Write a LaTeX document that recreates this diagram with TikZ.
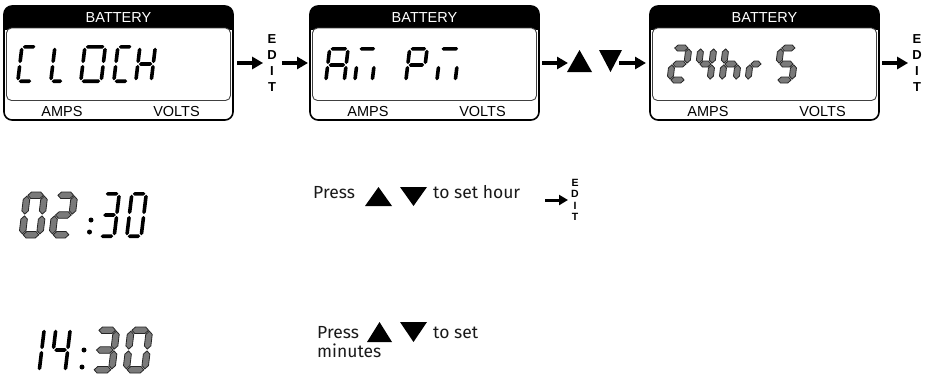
\documentclass[tikz,border=0pt]{standalone}
\usepackage{fontspec}
\setmainfont{Liberation Sans}
\newfontfamily\pressfont{Fira Sans}
\usetikzlibrary{arrows.meta}

\tikzset{
  panel/.style={draw=black, line width=1.6pt, rounded corners=8pt, minimum width=229pt,
    minimum height=114pt, inner sep=0pt, outer sep=0pt},
  hdr/.style={text=white, font=\fontsize{14.5}{16}\selectfont, inner sep=0pt},
  lbl/.style={text=black, font=\fontsize{14.5}{16}\selectfont, inner sep=0pt},
  arr/.style={line width=4pt, -{Triangle[length=11pt,width=12pt]}},
  arrsm/.style={line width=3pt, -{Triangle[length=9pt,width=10pt]}},
  edit/.style={font=\fontsize{13}{16}\selectfont\bfseries, align=center, inner sep=0pt},
  editsm/.style={font=\fontsize{10.5}{11.5}\selectfont\bfseries, align=center, inner sep=0pt},
  press/.style={font=\pressfont\fontsize{17.5}{20}\selectfont, text=black!90, inner sep=0pt, anchor=base west},
  thinseg/.style={fill=black},
  grayseg/.style={fill=black!52, draw=black!85, line width=0.8pt},
  tri/.style={fill=black},
}

% seven-segment helpers (local coordinates, y up)
\newcommand\hsegm[3]{%
  \path[segsty] ({#1+\sgap},{#3}) -- ({#1+\sgap+\sth},{#3+\sth}) -- ({#2-\sgap-\sth},{#3+\sth})
    -- ({#2-\sgap},{#3}) -- ({#2-\sgap-\sth},{#3-\sth}) -- ({#1+\sgap+\sth},{#3-\sth}) -- cycle;}
\newcommand\vsegm[3]{%
  \path[segsty] ({#1},{#2+\sgap}) -- ({#1+\sth},{#2+\sgap+\sth}) -- ({#1+\sth},{#3-\sgap-\sth})
    -- ({#1},{#3-\sgap}) -- ({#1-\sth},{#3-\sgap-\sth}) -- ({#1-\sth},{#2+\sgap+\sth}) -- cycle;}
\newcommand\sgcmda{\hsegm{0}{\dw}{\dh}}
\newcommand\sgcmdb{\vsegm{\dw}{\dm}{\dh}}
\newcommand\sgcmdc{\vsegm{\dw}{0}{\dm}}
\newcommand\sgcmdd{\hsegm{0}{\dw}{0}}
\newcommand\sgcmde{\vsegm{0}{0}{\dm}}
\newcommand\sgcmdf{\vsegm{0}{\dm}{\dh}}
\newcommand\sgcmdg{\hsegm{0}{\dw}{\dm}}

% #1 style, #2 thickness, #3 left x, #4 bottom y, #5 width, #6 height, #7 segments
\newcommand\lcdchar[7]{%
  \begin{scope}[shift={({#3+#2/2},{#4-#2/2})}, y=1pt, xslant=0.12]
    \pgfmathsetmacro\sth{#2/2}
    \def\sgap{0.9}
    \pgfmathsetmacro\dw{#5-#2}
    \pgfmathsetmacro\dh{#6-#2}
    \pgfmathsetmacro\dm{\dh/2}
    \tikzset{segsty/.style={#1}}
    \foreach \s in {#7}{\csname sgcmd\s\endcsname}
  \end{scope}}

\newcommand\lcdpanel[2]{%
  \begin{scope}
    \clip[rounded corners=8pt] (#2,6) rectangle ({#2+229},120);
    \fill[black] (#2,6) rectangle ({#2+229},30);
  \end{scope}
  \draw[black!75, line width=0.9pt, fill=white, rounded corners=5pt] ({#2+2.5},28) rectangle ({#2+226.5},100.5);
  \node[panel] (#1) at ({#2+114.5},63) {};
  \node[hdr] (#1t) at ({#2+114.5},17.5) {BATTERY};
  \node[lbl] (#1a) at ({#2+58},111.5) {AMPS};
  \node[lbl] (#1v) at ({#2+172.5},111.5) {VOLTS};
}

\begin{document}
\begin{tikzpicture}[x=1pt,y=-1pt]
\useasboundingbox (0,0) rectangle (929,375);

% ---------- top row panels ----------
\lcdpanel{p1}{4}
\lcdpanel{p2}{310}
\lcdpanel{p3}{650}

% CLOCH
\lcdchar{thinseg}{3.6}{16}{83}{18}{38}{a,f,e,d}
\lcdchar{thinseg}{3.6}{49}{83}{16}{38}{f,e,d}
\lcdchar{thinseg}{3.6}{79}{83}{24}{38}{a,b,c,d,e,f}
\lcdchar{thinseg}{3.6}{112}{83}{18}{38}{a,f,e,d}
\lcdchar{thinseg}{3.6}{134}{83}{19}{38}{f,e,g,b,c}

% AM PM
\lcdchar{thinseg}{3.6}{324}{83}{22}{36}{a,b,c,e,f,g}
\lcdchar{thinseg}{3.6}{353}{83}{21}{36}{a,c,e}
\lcdchar{thinseg}{3.6}{404}{83}{21}{36}{a,b,e,f,g}
\lcdchar{thinseg}{3.6}{435}{83}{22}{36}{a,c,e}

% 24hrS
\lcdchar{grayseg}{6}{667}{83}{21}{38}{a,b,g,e,d}
\lcdchar{grayseg}{6}{694}{83}{19}{38}{f,g,b,c}
\lcdchar{grayseg}{6}{719}{83}{20}{38}{f,e,g,c}
\lcdchar{grayseg}{6}{745}{83}{18}{38}{e,g}
\lcdchar{grayseg}{6}{774}{83}{21}{38}{a,f,g,c,d}

% EDIT labels and arrows
\node[edit] (e1) at (272,63) {E\\D\\I\\T};
\node[edit] (e2) at (917,63) {E\\D\\I\\T};
\draw[arr] ([xshift=4pt]p1.east) -- ([xshift=-4pt]e1.west);
\draw[arr] ([xshift=5pt]e1.east) -- ([xshift=-2pt]p2.west);

\fill[tri] (567,72) -- (592,72) -- (579.5,50) -- cycle;
\fill[tri] (599,50) -- (622,50) -- (610.5,72) -- cycle;
\coordinate (tu1) at (568,63);
\coordinate (td1) at (619,63);
\draw[arr] ([xshift=3pt]p2.east) -- (tu1);
\draw[arr] (td1) -- ([xshift=-4pt]p3.west);
\draw[arr] ([xshift=3pt]p3.east) -- ([xshift=-4pt]e2.west);

% ---------- row 2 : 02:30 ----------
\lcdchar{grayseg}{6.5}{19}{238}{24}{46}{a,b,c,d,e,f}
\lcdchar{grayseg}{6.5}{49}{238}{24}{46}{a,b,g,e,d}
\fill (91,220) circle (2.5);
\fill (89.5,232) circle (2.5);
\lcdchar{thinseg}{3.6}{98}{238}{18}{46}{a,b,g,c,d}
\lcdchar{thinseg}{3.6}{125}{238}{18}{46}{a,b,c,d,e,f}

\node[press] (t1) at (313,198) {Press};
\fill[tri] (365,206) -- (392,206) -- (378.5,187) -- cycle;
\fill[tri] (400,187) -- (427,187) -- (413.5,206) -- cycle;
\node[press] (t2) at (433,198) {to set hour};
\node[editsm] (e3) at (575,200) {E\\D\\I\\T};
\coordinate (a6) at (545,200);
\draw[arrsm] (a6) -- ([xshift=-3pt]e3.west);

% ---------- row 3 : 14:30 ----------
\lcdchar{thinseg}{3.6}{23}{373}{18}{46}{b,c}
\lcdchar{thinseg}{3.6}{49}{373}{18}{46}{f,g,b,c}
\fill (84,350) circle (2.5);
\fill (82,367) circle (2.5);
\lcdchar{grayseg}{6.5}{90}{373}{25}{46}{a,b,g,c,d}
\lcdchar{grayseg}{6.5}{123}{373}{25}{46}{a,b,c,d,e,f}

\node[press] (t3) at (317,338) {Press};
\fill[tri] (367,342) -- (392,342) -- (379.5,322) -- cycle;
\fill[tri] (400,322) -- (427,322) -- (413.5,342) -- cycle;
\node[press] (t4) at (433,338) {to set};
\node[press] (t5) at (317,357) {minutes};

\end{tikzpicture}
\end{document}
